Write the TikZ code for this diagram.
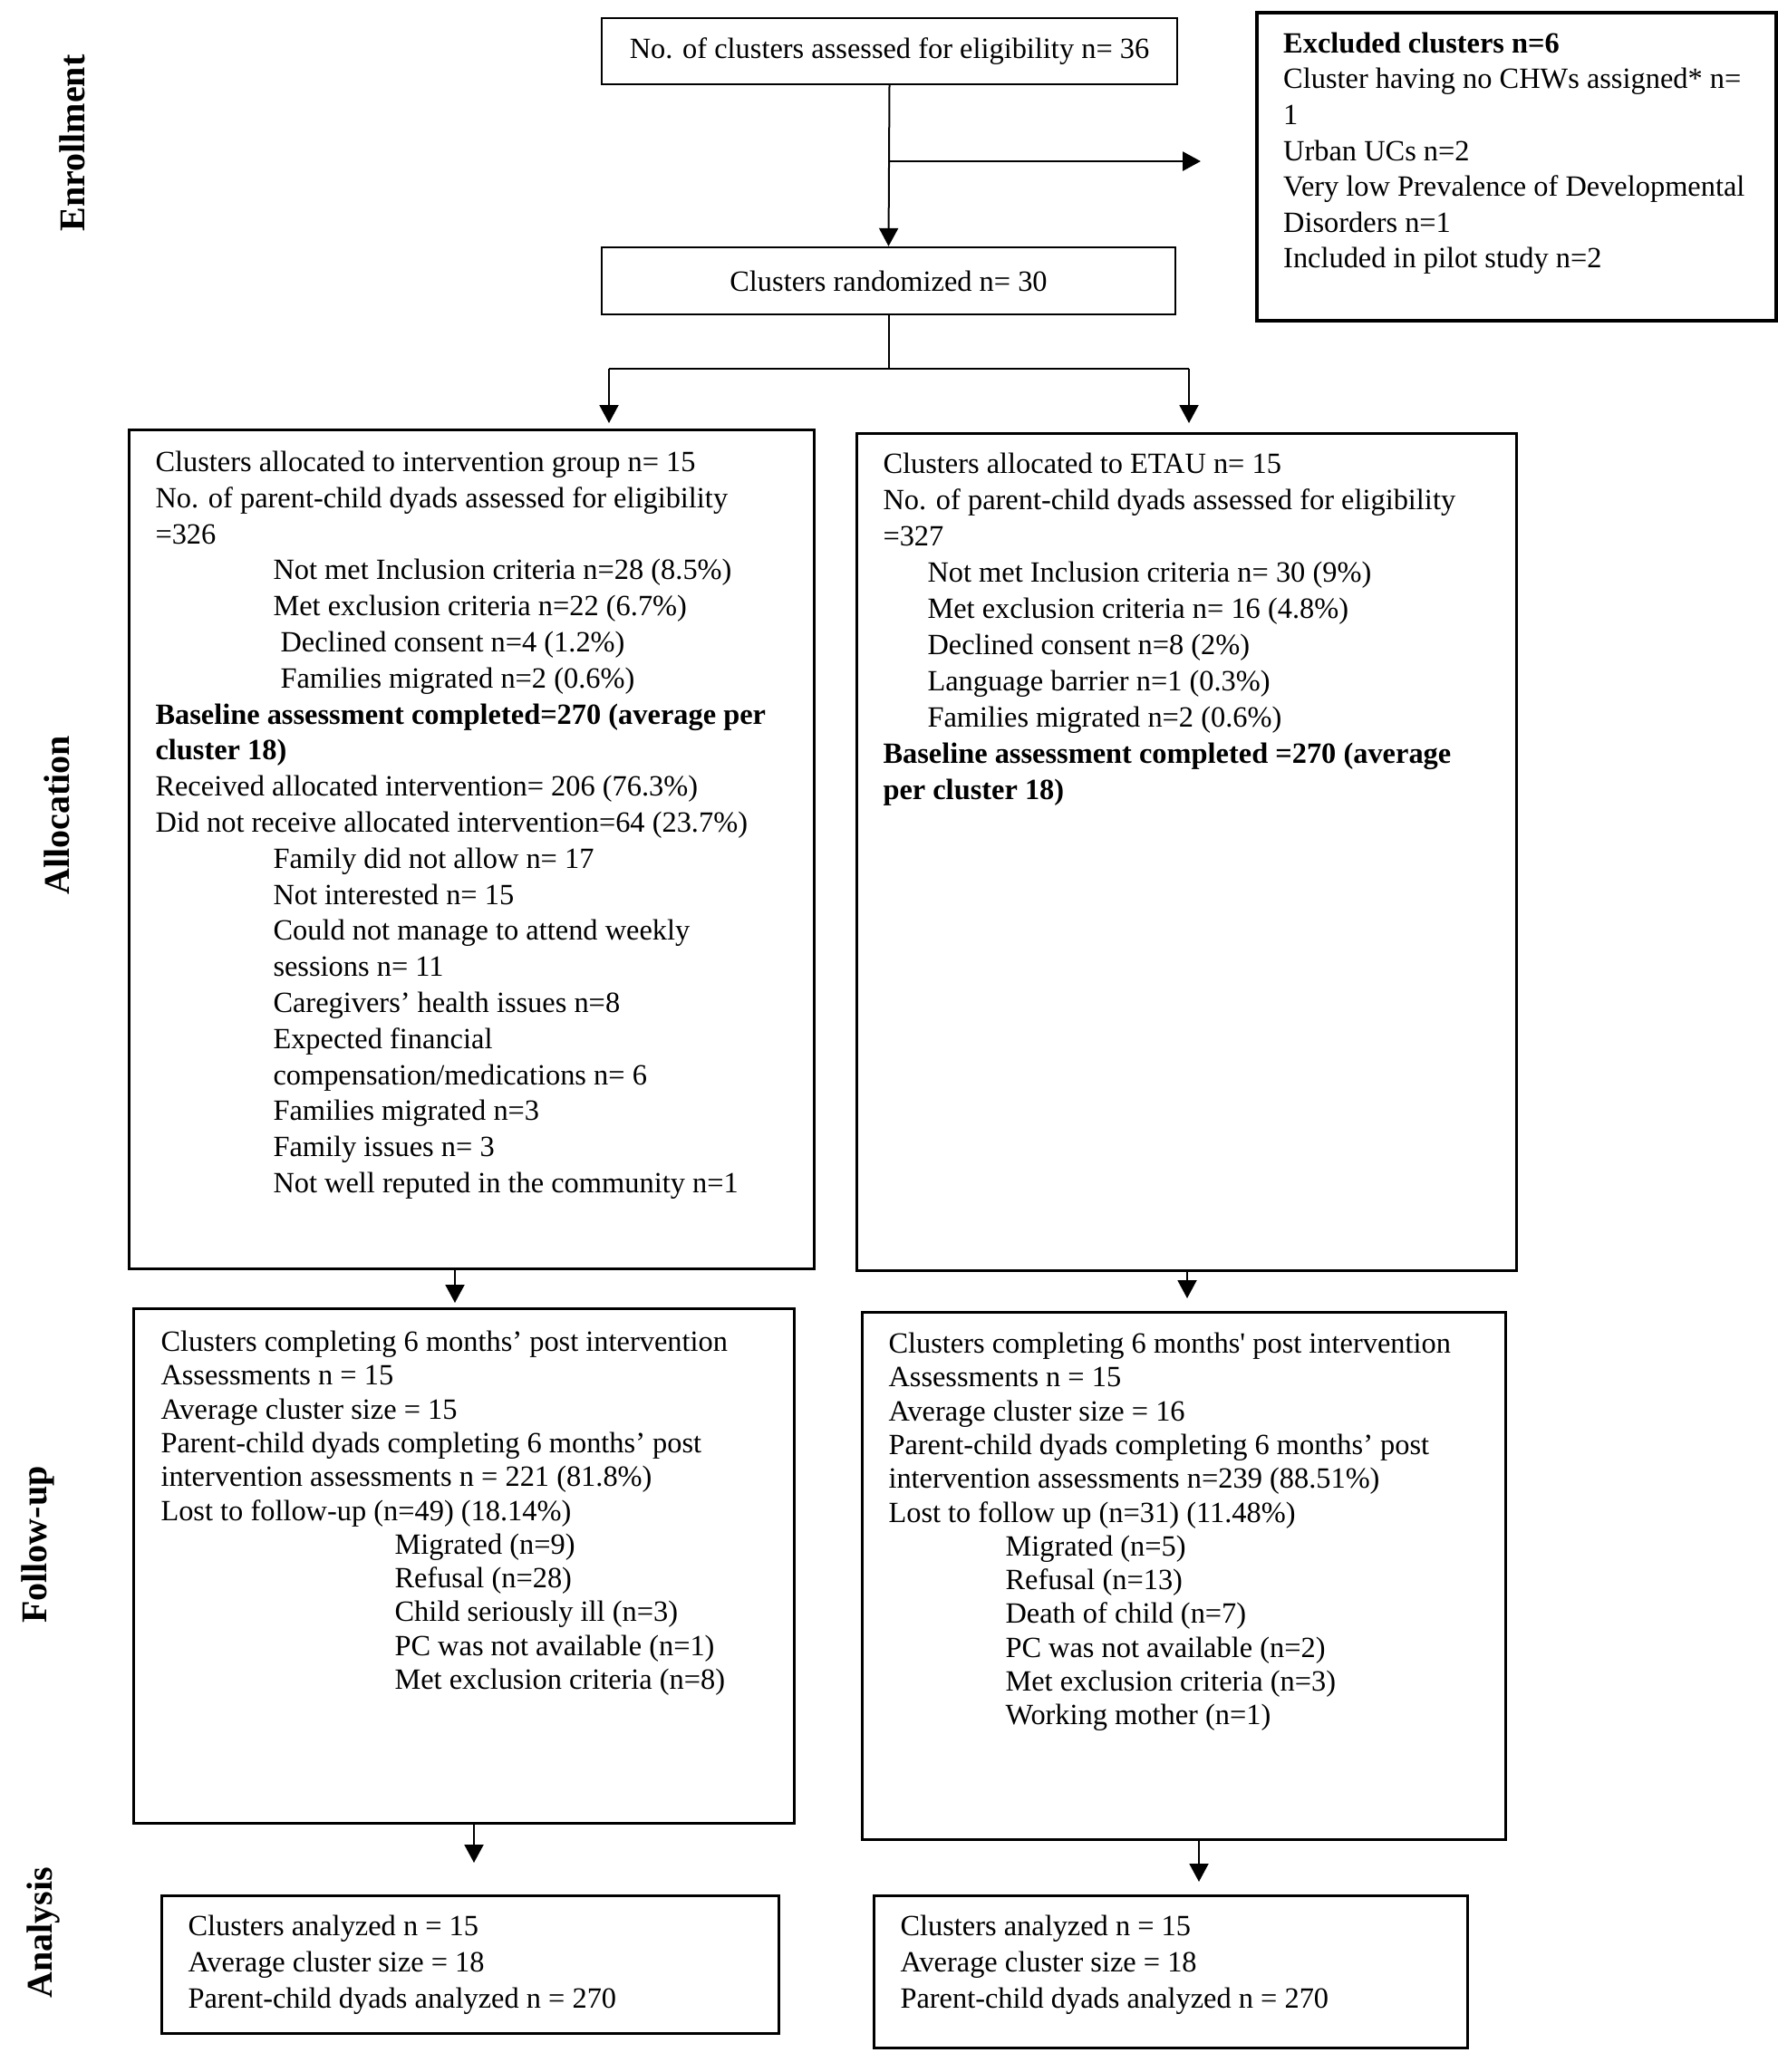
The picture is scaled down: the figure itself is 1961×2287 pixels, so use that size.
\documentclass[tikz,border=0pt]{standalone}
\usepackage{fontspec}
\setmainfont{Liberation Serif}[Ligatures=TeXOff]
\usetikzlibrary{arrows.meta}
\newcommand{\boxtext}[5]{\parbox[t][#2][t]{#1}{\vspace*{\dimexpr#4-0.7\baselineskip\relax}\raggedright\leftskip=#3\relax\strut#5}}
\tikzset{
  bigbox/.style={draw, line width=1.5pt, inner sep=0pt, anchor=north west},
  topbox/.style={draw, line width=1.2pt, inner sep=0pt, align=center,
    font=\fontsize{16.2}{19.9}\selectfont},
  sidelabel/.style={rotate=90, font=\fontsize{20}{24}\selectfont\bfseries, inner sep=0pt},
  conn/.style={line width=1pt},
  arr/.style={line width=1pt, -{Triangle[length=10pt,width=10.5pt]}},
}
\begin{document}
\begin{tikzpicture}[x=0.5pt,y=-0.5pt]
\useasboundingbox (0,0) rectangle (1961,2287);

% side labels
\node[sidelabel] (lenr) at (80,158) {Enrollment};
\node[sidelabel] (lall) at (63,900) {Allocation};
\node[sidelabel] (lfu) at (42,1705) {Follow-up};
\node[sidelabel] (lan) at (48,2133) {Analysis};

% enrollment
\node[topbox, minimum width=317.5pt, minimum height=36.5pt] (elig) at (981.5,56.5)
  {No. of clusters assessed for eligibility n= 36};
\node[topbox, minimum width=316.5pt, minimum height=37pt] (rand) at (980.5,310)
  {Clusters randomized n= 30};

\node[bigbox, line width=2.2pt, font=\fontsize{16.2}{19.8}\selectfont] (excl) at (1385,12)
  {\boxtext{286.5pt}{170pt}{14.5pt}{22pt}{%
  \textbf{Excluded clusters n=6}\\
  Cluster having no CHWs assigned* n=\\
  1\\
  Urban UCs n=2\\
  Very low Prevalence of Developmental\\
  Disorders n=1\\
  Included in pilot study n=2}};

% allocation
\node[bigbox, font=\fontsize{16.2}{19.9}\selectfont] (allocL) at (141,473)
  {\boxtext{378pt}{463pt}{14.5pt}{23pt}{%
  Clusters allocated to intervention group n= 15\\
  No. of parent-child dyads assessed for eligibility\\
  =326\\
  \hspace*{65pt}Not met Inclusion criteria n=28 (8.5\%)\\
  \hspace*{65pt}Met exclusion criteria n=22 (6.7\%)\\
  \hspace*{69pt}Declined consent n=4 (1.2\%)\\
  \hspace*{69pt}Families migrated n=2 (0.6\%)\\
  \textbf{Baseline assessment completed=270 (average per}\\
  \textbf{cluster 18)}\\
  Received allocated intervention= 206 (76.3\%)\\
  Did not receive allocated intervention=64 (23.7\%)\\
  \hspace*{65pt}Family did not allow n= 17\\
  \hspace*{65pt}Not interested n= 15\\
  \hspace*{65pt}Could not manage to attend weekly\\
  \hspace*{65pt}sessions n= 11\\
  \hspace*{65pt}Caregivers’ health issues n=8\\
  \hspace*{65pt}Expected financial\\
  \hspace*{65pt}compensation/medications n= 6\\
  \hspace*{65pt}Families migrated n=3\\
  \hspace*{65pt}Family issues n= 3\\
  \hspace*{65pt}Not well reputed in the community n=1}};

\node[bigbox, font=\fontsize{16.2}{20}\selectfont] (allocR) at (944,477)
  {\boxtext{364pt}{462pt}{14.5pt}{22pt}{%
  Clusters allocated to ETAU n= 15\\
  No. of parent-child dyads assessed for eligibility\\
  =327\\
  \hspace*{24.5pt}Not met Inclusion criteria n= 30 (9\%)\\
  \hspace*{24.5pt}Met exclusion criteria n= 16 (4.8\%)\\
  \hspace*{24.5pt}Declined consent n=8 (2\%)\\
  \hspace*{24.5pt}Language barrier n=1 (0.3\%)\\
  \hspace*{24.5pt}Families migrated n=2 (0.6\%)\\
  \textbf{Baseline assessment completed =270 (average}\\
  \textbf{per cluster 18)}}};

% follow-up
\node[bigbox, font=\fontsize{16.2}{18.65}\selectfont] (fuL) at (146,1443)
  {\boxtext{364.5pt}{284pt}{15pt}{23.5pt}{%
  Clusters completing 6 months’ post intervention\\
  Assessments n = 15\\
  Average cluster size = 15\\
  Parent-child dyads completing 6 months’ post\\
  intervention assessments n = 221 (81.8\%)\\
  Lost to follow-up (n=49) (18.14\%)\\
  \hspace*{129pt}Migrated (n=9)\\
  \hspace*{129pt}Refusal (n=28)\\
  \hspace*{129pt}Child seriously ill (n=3)\\
  \hspace*{129pt}PC was not available (n=1)\\
  \hspace*{129pt}Met exclusion criteria (n=8)}};

\node[bigbox, font=\fontsize{16.2}{18.65}\selectfont] (fuR) at (950,1447)
  {\boxtext{355pt}{291pt}{14.5pt}{22.5pt}{%
  Clusters completing 6 months' post intervention\\
  Assessments n = 15\\
  Average cluster size = 16\\
  Parent-child dyads completing 6 months’ post\\
  intervention assessments n=239 (88.51\%)\\
  Lost to follow up (n=31) (11.48\%)\\
  \hspace*{64.5pt}Migrated (n=5)\\
  \hspace*{64.5pt}Refusal (n=13)\\
  \hspace*{64.5pt}Death of child (n=7)\\
  \hspace*{64.5pt}PC was not available (n=2)\\
  \hspace*{64.5pt}Met exclusion criteria (n=3)\\
  \hspace*{64.5pt}Working mother (n=1)}};

% analysis
\node[bigbox, font=\fontsize{16.2}{20}\selectfont] (anL) at (177,2091)
  {\boxtext{340.5pt}{76pt}{14.5pt}{22pt}{%
  Clusters analyzed n = 15\\
  Average cluster size = 18\\
  Parent-child dyads analyzed n = 270}};

\node[bigbox, font=\fontsize{16.2}{20}\selectfont] (anR) at (963,2091)
  {\boxtext{327.5pt}{84pt}{14.5pt}{22pt}{%
  Clusters analyzed n = 15\\
  Average cluster size = 18\\
  Parent-child dyads analyzed n = 270}};

% connectors
\draw[arr] (elig.south) -- (rand.north);
\coordinate (exTip) at (1325,178);
\draw[arr, line width=1.4pt] (elig.south |- exTip) -- (exTip);

\coordinate (sL) at (672,407);
\coordinate (sR) at (1312,407);
\draw[conn] (rand.south) -- (rand.south |- sL);
\draw[conn, line width=1.4pt] (sL) -- (sR);
\draw[arr, shorten >=3pt] (sL) -- (sL |- allocL.north);
\draw[arr, shorten >=5pt] (sR) -- (sR |- allocR.north);

\draw[arr, shorten >=2.5pt] (allocL.south -| 502,0) -- (fuL.north -| 502,0);
\draw[arr, shorten >=7pt] (allocR.south -| 1310,0) -- (fuR.north -| 1310,0);

\draw[arr, shorten >=17.5pt] (fuL.south -| 523,0) -- (anL.north -| 523,0);
\draw[arr, shorten >=7pt] (fuR.south -| 1323,0) -- (anR.north -| 1323,0);
\end{tikzpicture}
\end{document}
